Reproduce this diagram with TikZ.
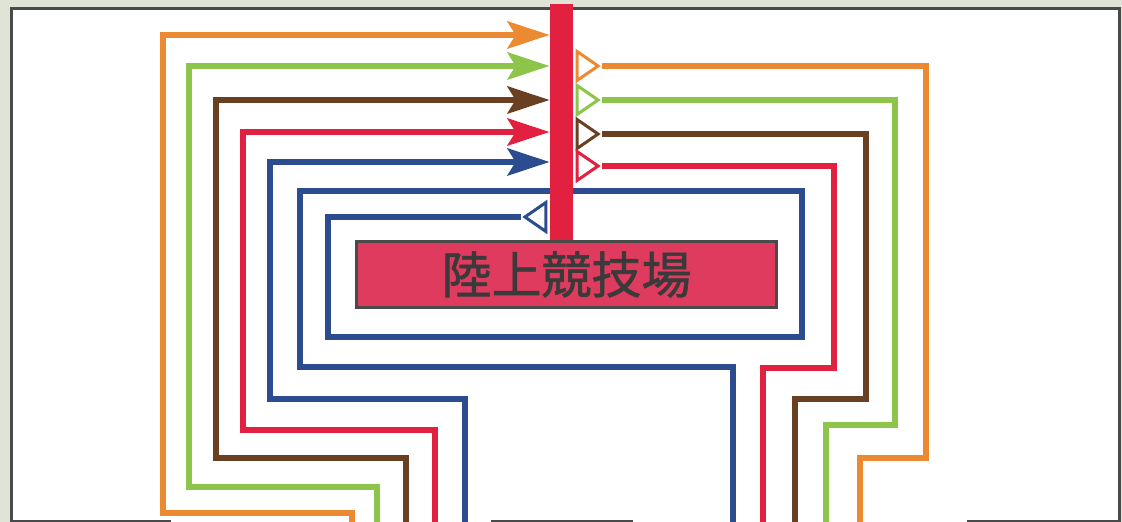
\documentclass[tikz,border=0pt]{standalone}
\usepackage{fontspec}
\newfontfamily\jpfont[FakeBold=1.2]{Noto Sans CJK JP}
\usepackage{tikz}
\usetikzlibrary{arrows.meta}
\usetikzlibrary{shapes.geometric}
\definecolor{paperc}{HTML}{DFE4D6}
\definecolor{framec}{HTML}{4A4A4A}
\definecolor{orangec}{HTML}{EC8A32}
\definecolor{greenc}{HTML}{8DC54B}
\definecolor{brownc}{HTML}{6A4023}
\definecolor{redc}{HTML}{E2203F}
\definecolor{bluec}{HTML}{2B4C8E}
\definecolor{boxc}{HTML}{DE3B5E}
\definecolor{textc}{HTML}{3A3A3A}
\tikzset{
	framestyle/.style={draw=framec,line width=1.5pt},
	barstyle/.style={rectangle,fill=redc,inner sep=0,minimum width=11.5pt,minimum height=118pt},
	boxstyle/.style={rectangle,draw=framec,fill=boxc,line width=1.5pt,minimum width=210pt,minimum height=33pt,font=\jpfont\fontsize{25pt}{25pt}\selectfont,text=textc},
	wirestyle/.style={draw=#1,line width=3.25pt},
	arrivestyle/.style={-{Stealth[length=21pt,width=13.5pt,inset=4pt]}},
	leavestyle/.style={isosceles triangle,isosceles triangle stretches,draw=#1,fill=white,line width=1.5pt,minimum width=14.5pt,minimum height=10.5pt,inner sep=0,anchor=apex}
}

\begin{document}
\begin{tikzpicture}[x=0.5pt,y=-0.5pt]
	\useasboundingbox (0,0) rectangle (1122,522);
	\fill[paperc] (0,0) rectangle (1122,522);
	\fill[white] (11,8) rectangle (1120,522);
	\draw[framestyle] (11,522) -- (11,8.5) -- (1119.5,8.5) -- (1119.5,522);
	\draw[framestyle] (11,521) -- (171,521);
	\draw[framestyle] (491,521) -- (633,521);
	\draw[framestyle] (967,521) -- (1119.5,521);
	\coordinate (orangein) at (352,522);
	\coordinate (greenin) at (377,522);
	\coordinate (brownin) at (406,522);
	\coordinate (redin) at (435,522);
	\coordinate (bluein) at (465,522);
	\coordinate (blueout) at (733,522);
	\coordinate (redout) at (763,522);
	\coordinate (brownout) at (795,522);
	\coordinate (greenout) at (826,522);
	\coordinate (orangeout) at (860,522);
	\node[leavestyle=bluec,shape border rotate=180] (bluetip) at (521,217) {};
	\draw[wirestyle=bluec] (bluetip.apex) -| (328,337) -| (802,191) -| (300,367) -| (blueout);
	\node[barstyle] (pillar) at (561.5,122) {};
	\node[boxstyle] (stadium) at (566.5,274.5) {陸上競技場};
	\draw[wirestyle=orangec,arrivestyle] (orangein) |- (163,513) |- (pillar.west |- 0,35);
	\draw[wirestyle=greenc,arrivestyle] (greenin) |- (189,487) |- (pillar.west |- 0,66);
	\draw[wirestyle=brownc,arrivestyle] (brownin) |- (216,458) |- (pillar.west |- 0,100);
	\draw[wirestyle=redc,arrivestyle] (redin) |- (243,430) |- (pillar.west |- 0,132);
	\draw[wirestyle=bluec,arrivestyle] (bluein) |- (270,399) |- (pillar.west |- 0,162);
	\node[leavestyle=orangec] (orangetip) at (602,66) {};
	\node[leavestyle=greenc] (greentip) at (602,100) {};
	\node[leavestyle=brownc] (browntip) at (602,134) {};
	\node[leavestyle=redc] (redtip) at (602,166) {};
	\draw[wirestyle=orangec] (orangetip.apex) -| (926,458) -| (orangeout);
	\draw[wirestyle=greenc] (greentip.apex) -| (895,425) -| (greenout);
	\draw[wirestyle=brownc] (browntip.apex) -| (866,399) -| (brownout);
	\draw[wirestyle=redc] (redtip.apex) -| (834,368) -| (redout);
\end{tikzpicture}
\end{document}
